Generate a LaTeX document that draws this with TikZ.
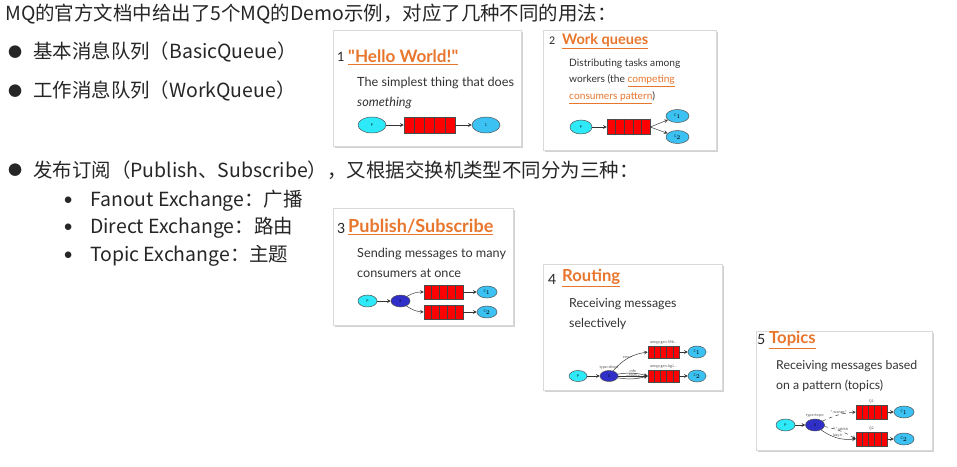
\documentclass[tikz,border=0pt]{standalone}
\usepackage{fontspec}
\setmainfont{Noto Sans CJK SC}
\newfontfamily\cardfont{Lato}
\usetikzlibrary{positioning,shadows,shapes.geometric,arrows,calc}
\definecolor{mqorange}{HTML}{E8762D}
\definecolor{mqcyan}{HTML}{2EEAF8}
\definecolor{mqblue}{HTML}{3CC2F2}
\definecolor{mqdark}{HTML}{3030C8}
\definecolor{mqred}{HTML}{FF0000}
\tikzset
{
    slidetext/.style = {anchor=west, inner sep=0pt, text=black!85, font=\fontsize{16.6}{18}\selectfont},
    dot/.style       = {anchor=west, inner sep=0pt, text=black!85, font=\fontsize{#1}{#1}\selectfont},
    smalldot/.style  = {anchor=west, inner sep=0pt, text=black!85, font=\cardfont\fontsize{#1}{#1}\selectfont},
    card/.style      = {draw=black!15, fill=white, drop shadow={opacity=0.35, shadow xshift=1.5pt, shadow yshift=-1.5pt}},
    cardnum/.style   = {anchor=west, inner sep=0pt, text=black!85, font=\cardfont\fontsize{#1}{#1}\selectfont},
    cardtitle/.style = {anchor=west, inner sep=0pt, text=mqorange, font=\cardfont\bfseries\fontsize{#1}{#1}\selectfont},
    cardtext/.style  = {anchor=west, inner sep=0pt, text=black!80, font=\cardfont\fontsize{#1}{#1}\selectfont},
    prod/.style      = {ellipse, draw=black!70, fill=mqcyan, inner sep=0pt, font=\fontsize{3}{3}\selectfont},
    cons/.style      = {ellipse, draw=black!70, fill=mqblue, inner sep=0pt, font=\fontsize{3}{3}\selectfont},
    exch/.style      = {ellipse, draw=black!70, fill=mqdark, inner sep=0pt, font=\fontsize{3}{3}\selectfont},
    queue/.style     = {rectangle, draw=black!70, fill=mqred, inner sep=0pt},
    arrow/.style     = {->, >=stealth, black!80, line width=0.4pt},
    tinylabel/.style = {inner sep=0.5pt, text=black!70, font=\fontsize{3}{3}\selectfont}
}

\begin{document}
\begin{tikzpicture}[x=0.03cm, y=-0.03cm]

   \useasboundingbox[fill=white] (0,0) rectangle (957,466);

   % slide text
   \node (head) [slidetext] at (5,14)   {MQ的官方文档中给出了5个MQ的Demo示例，对应了几种不同的用法：};
   \node (b1)   [dot=12]    at (8,52)   {●};
   \node (t1)   [slidetext] at (33,52)  {基本消息队列（BasicQueue）};
   \node (b2)   [dot=12]    at (8,91)   {●};
   \node (t2)   [slidetext] at (33,91)  {工作消息队列（WorkQueue）};
   \node (b3)   [dot=12]    at (8,170)  {●};
   \node (t3)   [slidetext] at (33,170) {发布订阅（Publish、Subscribe），又根据交换机类型不同分为三种：};
   \node (s1)   [smalldot=15] at (63,201) {•};
   \node (u1)   [slidetext] at (90,201) {Fanout Exchange：广播};
   \node (s2)   [smalldot=15] at (63,228) {•};
   \node (u2)   [slidetext] at (90,228) {Direct Exchange：路由};
   \node (s3)   [smalldot=15] at (63,256) {•};
   \node (u3)   [slidetext] at (90,256) {Topic Exchange：主题};

   % cards
   \path[card] (333,30)  rectangle (521,146);
   \path[card] (543,30)  rectangle (716,150);
   \path[card] (333,208) rectangle (513,325);
   \path[card] (543,264) rectangle (722,390);
   \path[card] (756,331) rectangle (932,450);

   % 1 hello world
   \node (n1)  [cardnum=11]     at (337,57)  {1};
   \node (h1)  [cardtitle=14.6] at (348,57)  {\underline{"Hello World!"}};
   \node (d1a) [cardtext=10.8]  at (357,83)  {The simplest thing that does};
   \node (d1b) [cardtext=10.8]  at (357,103) {\itshape something};
   \node (p1)  [prod, minimum width=0.84cm, minimum height=0.48cm] at (372,125)   {P};
   \node (q1)  [queue, minimum width=1.53cm, minimum height=0.48cm] at (429.5,125) {};
   \node (c1)  [cons, minimum width=0.84cm, minimum height=0.48cm] at (486,125)   {C};

   % 2 work queues
   \node (n2)  [cardnum=9]      at (549,41)  {2};
   \node (h2)  [cardtitle=12.4] at (562,41)  {\underline{Work queues}};
   \node (d2a) [cardtext=8.7]   at (569,64)  {Distributing tasks among};
   \node (d2b) [cardtext=8.7]   at (569,81)  {workers (the \textcolor{mqorange}{\underline{competing}}};
   \node (d2c) [cardtext=8.7]   at (569,98)  {\textcolor{mqorange}{\underline{consumers pattern}})};
   \node (p2)  [prod, minimum width=0.66cm, minimum height=0.42cm] at (581,127)   {P};
   \node (q2)  [queue, minimum width=1.29cm, minimum height=0.45cm] at (628.5,127) {};
   \node (c21) [cons, minimum width=0.69cm, minimum height=0.39cm] at (677.5,116) {C$_1$};
   \node (c22) [cons, minimum width=0.69cm, minimum height=0.39cm] at (677.5,137) {C$_2$};

   % 3 publish/subscribe
   \node (n3)  [cardnum=12]     at (337,228) {3};
   \node (h3)  [cardtitle=15.4] at (348,227) {\underline{Publish/Subscribe}};
   \node (d3a) [cardtext=10.8]  at (357,254) {Sending messages to many};
   \node (d3b) [cardtext=10.8]  at (357,273) {consumers at once};
   \node (p3)  [prod, minimum width=0.57cm, minimum height=0.36cm] at (367.5,301) {P};
   \node (x3)  [exch, minimum width=0.57cm, minimum height=0.36cm] at (400.5,301) {X};
   \node (q31) [queue, minimum width=1.17cm, minimum height=0.42cm] at (443.5,292) {};
   \node (q32) [queue, minimum width=1.17cm, minimum height=0.42cm] at (443.5,312) {};
   \node (c31) [cons, minimum width=0.6cm, minimum height=0.36cm]  at (487,292)   {C$_1$};
   \node (c32) [cons, minimum width=0.6cm, minimum height=0.36cm]  at (487,312)   {C$_2$};

   % 4 routing
   \node (n4)  [cardnum=12]     at (548,279) {4};
   \node (h4)  [cardtitle=14.2] at (562,278) {\underline{Routing}};
   \node (d4a) [cardtext=10.6]  at (569,304) {Receiving messages};
   \node (d4b) [cardtext=10.6]  at (569,324) {selectively};
   \node (p4)  [prod, minimum width=0.54cm, minimum height=0.33cm] at (578,376)   {P};
   \node (x4)  [exch, minimum width=0.54cm, minimum height=0.33cm] at (609,376)   {X};
   \node (q41) [queue, minimum width=0.93cm, minimum height=0.36cm] at (663.5,352) {};
   \node (q42) [queue, minimum width=0.93cm, minimum height=0.36cm] at (663.5,376) {};
   \node (c41) [cons, minimum width=0.54cm, minimum height=0.36cm] at (697,352)   {C$_1$};
   \node (c42) [cons, minimum width=0.54cm, minimum height=0.36cm] at (697,376)   {C$_2$};
   \node (l41) [tinylabel, above=0.5pt of q41] {amqp.gen-S9b...};
   \node (l42) [tinylabel, above=0.5pt of q42] {amqp.gen-Ag1...};
   \node (l4x) [tinylabel, above=0.5pt of x4]  {type=direct};

   % 5 topics
   \node (n5)  [cardnum=12]     at (757,340) {5};
   \node (h5)  [cardtitle=14.2] at (769,340) {\underline{Topics}};
   \node (d5a) [cardtext=10.5]  at (776,366) {Receiving messages based};
   \node (d5b) [cardtext=10.5]  at (776,386) {on a pattern (topics)};
   \node (p5)  [prod, minimum width=0.57cm, minimum height=0.36cm] at (785.5,425) {P};
   \node (x5)  [exch, minimum width=0.57cm, minimum height=0.36cm] at (815,425)   {X};
   \node (q51) [queue, minimum width=0.93cm, minimum height=0.42cm] at (871.5,412) {};
   \node (q52) [queue, minimum width=0.93cm, minimum height=0.42cm] at (871.5,439) {};
   \node (c51) [cons, minimum width=0.6cm, minimum height=0.36cm]  at (904,412)   {C$_1$};
   \node (c52) [cons, minimum width=0.6cm, minimum height=0.36cm]  at (904,439)   {C$_2$};
   \node (l51) [tinylabel, above=0.5pt of q51] {Q1};
   \node (l52) [tinylabel, above=0.5pt of q52] {Q2};
   \node (l5x) [tinylabel, above=0.5pt of x5]  {type=topic};

   % queue cells
   \foreach \q in {q1,q2,q31,q32,q41,q42,q51,q52}
      \foreach \f in {0.2,0.4,0.6,0.8}
         \draw[black!75, line width=0.45pt] ($(\q.south west)!\f!(\q.south east)$) -- ($(\q.north west)!\f!(\q.north east)$);

   \path[every node/.style={tinylabel}]
      (p1)  edge[arrow] (q1)
      (q1)  edge[arrow] (c1)
      (p2)  edge[arrow] (q2)
      (q2.east) edge[arrow] (c21)
      (q2.east) edge[arrow] (c22)
      (p3)  edge[arrow] (x3)
      (x3)  edge[arrow, bend left=15]  (q31.west)
      (x3)  edge[arrow, bend right=15] (q32.west)
      (q31) edge[arrow] (c31)
      (q32) edge[arrow] (c32)
      (p4)  edge[arrow] (x4)
      (x4)  edge[arrow, bend left=20]  node[above, pos=0.45] {error} (q41.west)
      (x4)  edge[arrow, bend left=12]  node[above, pos=0.5] {info} (q42.west)
      (x4)  edge[arrow]                node[above, pos=0.5] {error} (q42.west)
      (x4)  edge[arrow, bend right=12] node[above, pos=0.5] {warning} (q42.west)
      (q41) edge[arrow] (c41)
      (q42) edge[arrow] (c42)
      (p5)  edge[arrow] (x5)
      (x5)  edge[arrow, dashed, bend left=10]  node[above, pos=0.5] {*.orange.*} (q51.west)
      (x5)  edge[arrow, dashed, bend left=10]  node[above, pos=0.5] {*.*.rabbit} (q52.west)
      (x5)  edge[arrow, bend right=20]         node[above, pos=0.5] {lazy.\#} (q52.west)
      (q51) edge[arrow] (c51)
      (q52) edge[arrow] (c52);

\end{tikzpicture}
\end{document}
